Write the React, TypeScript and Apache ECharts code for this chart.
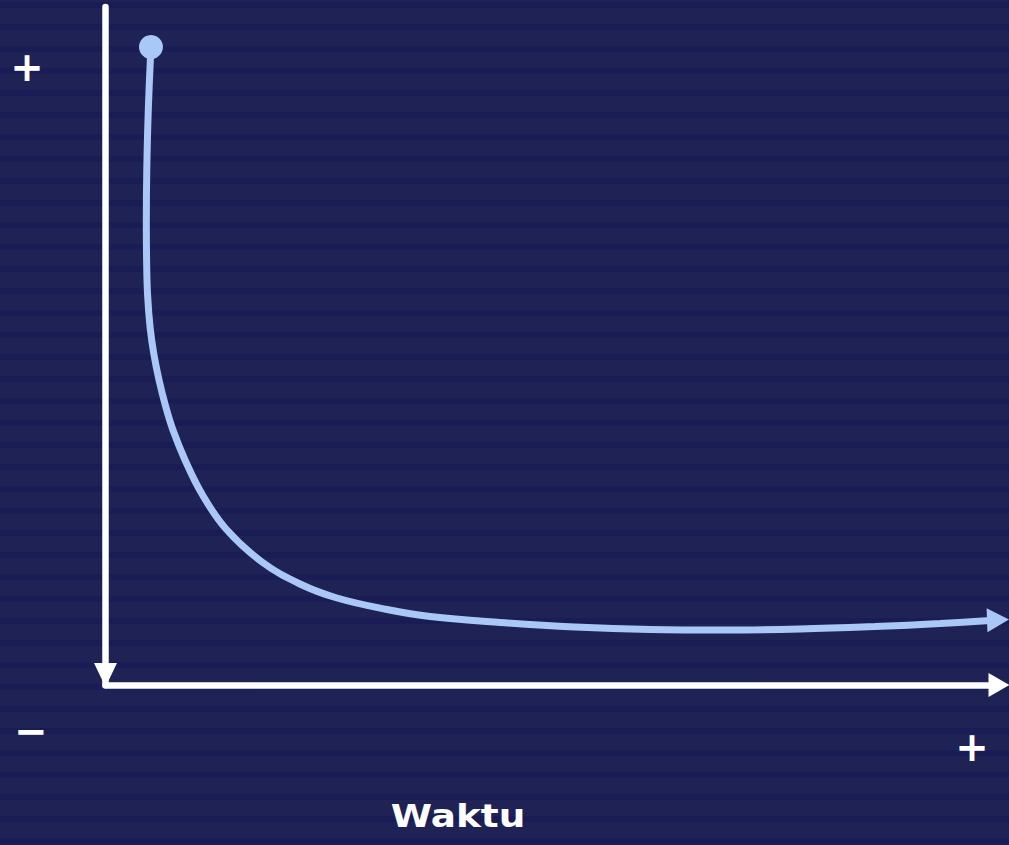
import React, { useEffect, useRef } from "react";
import * as echarts from "echarts";

// Curve (abstract time on x, quantity on y; 0..100 scale)
const curveX = [5.09, 4.79, 4.62, 4.57, 4.6, 4.71, 5.0, 5.43, 5.99, 6.69, 7.55, 8.9, 10.8, 13.49, 17.52, 21.77, 25.91, 31.51, 36.32, 44.15, 52.55, 60.94, 69.33, 77.73, 86.12, 93.4, 99.89];
const curveY = [94.1, 84.81, 75.96, 68.58, 62.68, 57.52, 52.65, 48.67, 44.99, 41.3, 37.61, 33.19, 28.17, 23.01, 18.14, 14.9, 12.83, 11.14, 10.1, 9.22, 8.55, 8.19, 8.11, 8.26, 8.63, 9.07, 9.59];
const startPoint = [5.09, 94.1];
const endPoint = [99.89, 9.59];
const axisLabelsText = { yPlus: "+", minus: "−", xPlus: "+", xTitle: "Waktu" };

export default function App() {
  const ref = useRef<HTMLDivElement>(null);
  useEffect(() => {
    if (!ref.current) return;
    const chart = echarts.init(ref.current, null, { renderer: "svg" });
    const stripes: any[] = [];
    for (let y = 2; y < 845; y += 22) {
      stripes.push({
        type: "rect",
        silent: true,
        z: -10,
        shape: { x: 0, y, width: 1009, height: 6 },
        style: { fill: "#1a1c55" },
      });
    }
    const lineData = curveX.map((x, i) => [x, curveY[i]]);
    const signFont = "bold 40px 'DejaVu Sans'";
    chart.setOption({
      animation: false,
      backgroundColor: "#1f2254",
      grid: { left: 105.5, right: 10, top: 7, bottom: 160, containLabel: false },
      xAxis: {
        type: "value",
        min: 0,
        max: 100,
        axisLine: {
          show: true,
          onZero: false,
          symbol: ["none", "triangle"],
          symbolSize: [24, 21],
          lineStyle: { color: "#ffffff", width: 6.5 },
        },
        axisTick: { show: false },
        axisLabel: { show: false },
        splitLine: { show: false },
      },
      yAxis: {
        type: "value",
        min: 0,
        max: 100,
        axisLine: {
          show: true,
          onZero: false,
          symbol: ["triangle", "none"],
          symbolSize: [23, 24],
          symbolOffset: [10, 0],
          lineStyle: { color: "#ffffff", width: 6.5 },
        },
        axisTick: { show: false },
        axisLabel: { show: false },
        splitLine: { show: false },
      },
      graphic: [
        ...stripes,
        {
          type: "text",
          x: 27,
          y: 67,
          style: { text: axisLabelsText.yPlus, fill: "#ffffff", font: signFont, align: "center", verticalAlign: "middle" },
        },
        {
          type: "text",
          x: 31,
          y: 731,
          style: { text: axisLabelsText.minus, fill: "#ffffff", font: signFont, align: "center", verticalAlign: "middle" },
        },
        {
          type: "text",
          x: 972,
          y: 747,
          style: { text: axisLabelsText.xPlus, fill: "#ffffff", font: signFont, align: "center", verticalAlign: "middle" },
        },
        {
          type: "text",
          x: 458,
          y: 832,
          scaleX: 1.17,
          style: { text: axisLabelsText.xTitle, fill: "#ffffff", font: "bold 32px 'DejaVu Sans'", align: "center", verticalAlign: "bottom" },
        },
      ],
      series: [
        {
          type: "line",
          data: lineData,
          smooth: 0.4,
          symbol: "none",
          lineStyle: { color: "#a9c8f7", width: 7 },
          z: 3,
        },
        {
          type: "scatter",
          data: [startPoint],
          symbol: "circle",
          symbolSize: 24,
          itemStyle: { color: "#a9c8f7", opacity: 1 },
          z: 4,
        },
        {
          type: "scatter",
          data: [endPoint],
          symbol: "triangle",
          symbolSize: [24, 22],
          symbolRotate: -88,
          itemStyle: { color: "#a9c8f7", opacity: 1 },
          z: 4,
        },
      ],
    });
    return () => chart.dispose();
  }, []);
  return (
    <div
      ref={ref}
      style={{ position: "fixed", left: 0, top: 0, width: 1009, height: 845 }}
    />
  );
}
